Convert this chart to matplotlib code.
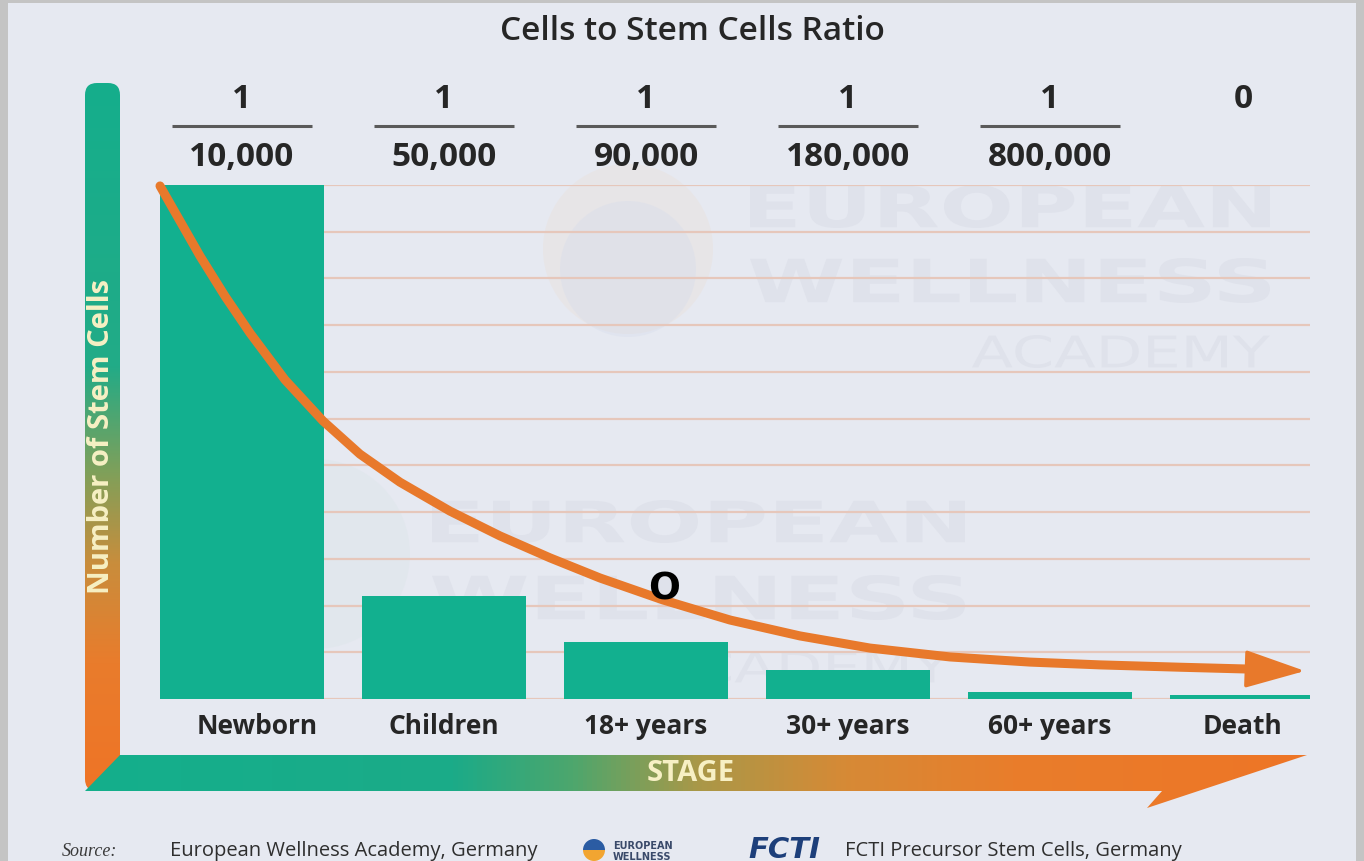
import matplotlib
matplotlib.use("Agg")
import matplotlib.pyplot as plt
import numpy as np
import matplotlib.transforms as mtransforms
from matplotlib.patches import Polygon, FancyBboxPatch, Rectangle, Wedge, PathPatch
from matplotlib.colors import LinearSegmentedColormap
from matplotlib.textpath import TextPath
from matplotlib.font_manager import FontProperties

# ---------------- data ----------------
title = "Cells to Stem Cells Ratio"
categories = ["Newborn", "Children", "18+ years", "30+ years", "60+ years", "Death"]
stem_cells = [11.0, 2.2, 1.22, 0.62, 0.14, 0.08]
ratio_num = ["1", "1", "1", "1", "1", "0"]
ratio_den = ["10,000", "50,000", "90,000", "180,000", "800,000", ""]
curve_x = [-0.406, -0.307, -0.208, -0.084, 0.040, 0.213, 0.401, 0.584, 0.782, 1.030,
           1.277, 1.525, 1.772, 2.084, 2.416, 2.762, 3.109, 3.505, 3.901, 4.248, 4.644, 4.990]
curve_y = [10.98, 10.23, 9.48, 8.62, 7.83, 6.83, 5.95, 5.24, 4.64, 4.02,
           3.49, 3.02, 2.59, 2.12, 1.69, 1.35, 1.09, 0.90, 0.79, 0.73, 0.68, 0.64]
arrow_tip = (5.262, 0.60)
grid_levels = list(range(0, 12))
y_label = "Number of Stem Cells"
x_label = "STAGE"
source_left = "European Wellness Academy, Germany"
source_right = "FCTI Precursor Stem Cells, Germany"

# ---------------- layout / style ----------------
label_dx = [0.074, 0.0, 0.0, 0.0, 0.0, -0.045]
FONT = ["Open Sans", "DejaVu Sans"]
plt.rcParams["font.family"] = FONT
GREEN = "#12b08f"
ORANGE = "#e8792b"
GRID = "#e6c7bb"
BG = "#e6e9f1"
TXT = "#262626"

W, H = 1364, 862
fig = plt.figure(figsize=(W / 100, H / 100), dpi=100)
fig.patch.set_facecolor("#c4c4c4")

bg = fig.add_axes([0, 0, 1, 1])
bg.set_xlim(0, W)
bg.set_ylim(H, 0)
bg.axis("off")
bg.set_zorder(1)
bg.add_patch(Rectangle((8, 4), W - 16, H - 4, facecolor=BG, edgecolor="none", zorder=0))

# faint watermark logos (graphic, drawn as shapes)
wm_col = "#dfe2eb"
wm_prop = FontProperties(family="DejaVu Sans", weight="bold")
wm_thin = FontProperties(family="DejaVu Sans")


def watermark(word, xl, xr, yt, yb, prop):
    tp = TextPath((0, 0), word, size=50, prop=prop)
    bb = tp.get_extents()
    tr = (mtransforms.Affine2D().translate(-bb.x0, -bb.y0)
          .scale((xr - xl) / bb.width, -(yb - yt) / bb.height).translate(xl, yb))
    bg.add_patch(PathPatch(tr.transform_path(tp), facecolor=wm_col, edgecolor="none",
                           zorder=0.5))


bg.add_patch(plt.Circle((628, 250), 85, color="#ecdcd0", alpha=0.3, zorder=0.4, lw=0))
bg.add_patch(plt.Circle((628, 270), 68, color="#d7ddec", alpha=0.4, zorder=0.45, lw=0))
bg.add_patch(plt.Circle((315, 555), 95, color="#d8e3e6", alpha=0.3, zorder=0.4, lw=0))
watermark("EUROPEAN", 750, 1270, 186, 229, wm_prop)
watermark("WELLNESS", 750, 1270, 259, 304, wm_prop)
watermark("ACADEMY", 972, 1270, 336, 369, wm_thin)
watermark("EUROPEAN", 432, 965, 501, 544, wm_prop)
watermark("WELLNESS", 432, 965, 576, 621, wm_prop)
watermark("ACADEMY", 652, 950, 652, 684, wm_thin)

# ---- L shaped axis with gradients ----
vcmap = LinearSegmentedColormap.from_list(
    "v", [(0.0, "#15ae8c"), (0.40, "#22ab87"), (0.55, "#7fa05a"), (0.68, "#c98d3c"),
          (0.82, "#e97c2c"), (1.0, "#ef7426")])
hcmap = LinearSegmentedColormap.from_list(
    "h", [(0.0, "#14af8c"), (0.30, "#1bab88"), (0.40, "#4fa66c"), (0.50, "#a99848"),
          (0.62, "#d68a36"), (0.76, "#e97d2b"), (1.0, "#ee7526")])

vgrad = np.linspace(0, 1, 256).reshape(-1, 1)
vim = bg.imshow(vgrad, cmap=vcmap, extent=[85, 120, 792, 84], aspect="auto", zorder=2)
vclip = FancyBboxPatch((85, 84), 35, 708, boxstyle="round,pad=0,rounding_size=12",
                       transform=bg.transData, facecolor="none", edgecolor="none")
bg.add_patch(vclip)
vim.set_clip_path(vclip)

hgrad = np.linspace(0, 1, 256).reshape(1, -1)
him = bg.imshow(hgrad, cmap=hcmap, extent=[85, 1310, 810, 753], aspect="auto", zorder=3)
hpoly = Polygon([(85, 792), (120, 756), (1307, 756), (1147, 809), (1162, 792)],
                closed=True, transform=bg.transData, facecolor="none", edgecolor="none")
bg.add_patch(hpoly)
him.set_clip_path(hpoly)

bg.text(102, 437, y_label, rotation=90, ha="center", va="center", fontsize=21,
        fontweight="bold", color="#f7f0c4", zorder=5)
bg.text(691, 774, x_label, ha="center", va="center", fontsize=21,
        fontweight="bold", color="#f7f0c4", zorder=5)

# title
bg.text(692, 32, title, ha="center", va="center", fontsize=24, fontweight="semibold",
        color=TXT, zorder=5)

# source line
bg.text(62, 852, "Source:", ha="left", va="center", fontsize=13, style="italic",
        color="#3a3a3a", family="Liberation Serif", zorder=5)
bg.text(170, 851, source_left, ha="left", va="center", fontsize=14.5, color="#2e2e2e", zorder=5)
bg.add_patch(Wedge((594, 851), 11, 0, 180, facecolor="#f2a531", edgecolor="none", zorder=5))
bg.add_patch(Wedge((594, 851), 11, 180, 360, facecolor="#2b5ca3", edgecolor="none", zorder=5))
bg.text(613, 846, "EUROPEAN", fontsize=7, fontweight="bold", color="#3a4a6a",
        ha="left", va="center", family="DejaVu Sans", zorder=5)
bg.text(613, 857, "WELLNESS", fontsize=7, fontweight="bold", color="#3a4a6a",
        ha="left", va="center", family="DejaVu Sans", zorder=5)
bg.text(748, 850, "FCTI", fontsize=21, fontweight="heavy", style="italic", color="#1d3f7a",
        ha="left", va="center", family="DejaVu Sans", zorder=5)
bg.text(845, 851, source_right, ha="left", va="center", fontsize=14.5, color="#2e2e2e", zorder=5)

# ---------------- main chart axes ----------------
x0, x1, ytop, ybase = 160, 1310, 186, 700
ax = fig.add_axes([x0 / W, (H - ybase) / H, (x1 - x0) / W, (ybase - ytop) / H])
ax.set_zorder(2)
ax.patch.set_alpha(0)
ax.set_xlim(-0.406, 5.287)
ax.set_ylim(0, 11)
ax.axis("off")

xpos = np.arange(len(categories))
ax.hlines(grid_levels, -0.406, 5.287, colors=GRID, lw=1.6, zorder=1)
ax.bar(xpos, stem_cells, width=0.81, color=GREEN, zorder=2)

ax.plot(curve_x, curve_y, color=ORANGE, lw=6.5, solid_capstyle="round",
        solid_joinstyle="round", zorder=4, clip_on=False)
ax.annotate("", xy=arrow_tip, xytext=(curve_x[-1], curve_y[-1]),
            arrowprops=dict(arrowstyle="-|>,head_length=0.95,head_width=0.3",
                            mutation_scale=40, color=ORANGE, lw=2.5,
                            shrinkA=0, shrinkB=0),
            zorder=4, annotation_clip=False)

blend = mtransforms.blended_transform_factory(ax.transData, bg.transData)
for i, (num, den) in enumerate(zip(ratio_num, ratio_den)):
    xi = xpos[i] + (label_dx[i] if den == "" else 0.0)
    ax.text(xi, 100, num, transform=blend, ha="center", va="center", fontsize=24,
            fontweight="bold", color=TXT, clip_on=False)
    if den:
        ax.plot([xpos[i] - 0.345, xpos[i] + 0.345], [127, 127], transform=blend,
                color="#5a5a5a", lw=2.2, clip_on=False, solid_capstyle="butt")
        ax.text(xpos[i], 157, den, transform=blend, ha="center", va="center", fontsize=24,
                fontweight="bold", color=TXT, clip_on=False)

for i, cat in enumerate(categories):
    ax.text(xpos[i] + label_dx[i], 727, cat, transform=blend, ha="center", va="center",
            fontsize=19, fontweight="bold", color=TXT, clip_on=False)

# stray marker label present in the original
ax.text(664, 590, "O", transform=bg.transData, ha="center", va="center", fontsize=27,
        fontweight="bold", color="black", family="DejaVu Sans", zorder=6, clip_on=False)

fig.savefig("out.png", dpi=100, facecolor=fig.get_facecolor())
